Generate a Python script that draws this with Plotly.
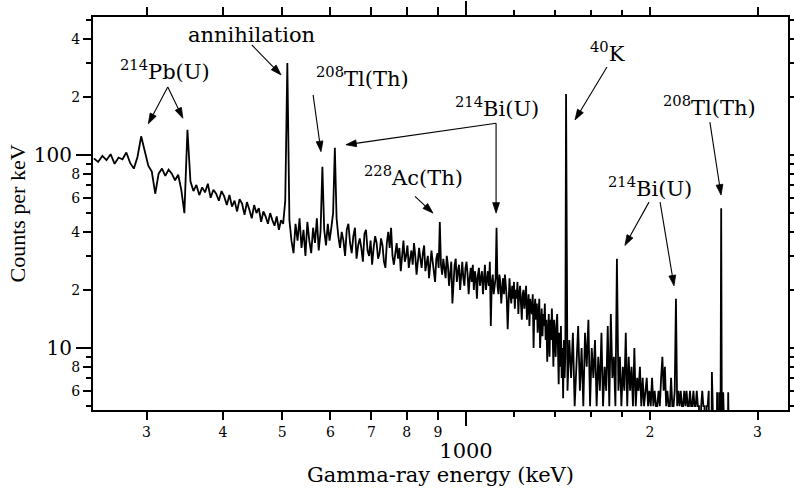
import numpy as np
import plotly.graph_objects as go

# ---------------- data ----------------
# channel energies (keV) of the binning segments of the spectrum
energy_a = list(range(246, 599, 4))
counts_a = [96, 92, 99, 94, 101, 90, 97, 95, 103, 91,
            85, 98, 125, 104, 88, 82, 63, 80, 85, 78,
            84, 80, 74, 79, 66, 50, 135, 73, 65, 70,
            62, 68, 64, 71, 60, 66, 63, 58, 65, 61,
            55, 62, 54, 58, 51, 59, 56, 49, 57, 52,
            47, 55, 50, 53, 45, 51, 48, 44, 50, 46,
            43, 48, 41, 46, 44, 58, 300, 46, 36, 31,
            44, 36, 47, 33, 41, 30, 45, 36, 31, 42,
            35, 47, 32, 40, 87, 41, 34, 44, 36]

energy_b = list(range(602, 1459, 4))
counts_b = [42, 50, 109, 47, 38, 33, 40, 36, 30, 41,
            44, 35, 31, 38, 42, 29, 34, 37, 33, 28,
            39, 41, 32, 30, 36, 27, 33, 38, 35, 29,
            31, 37, 34, 28, 26, 35, 40, 33, 42, 30,
            27, 32, 35, 29, 33, 25, 31, 36, 28, 30,
            34, 26, 29, 32, 27, 35, 30, 24, 28, 33,
            29, 26, 31, 34, 25, 28, 30, 23, 27, 32,
            28, 25, 22, 29, 31, 26, 45, 27, 24, 29,
            26, 23, 30, 27, 21, 25, 28, 17, 24, 27,
            29, 22, 25, 27, 20, 24, 28, 23, 21, 26,
            28, 24, 19, 23, 26, 22, 27, 20, 25, 23,
            18, 24, 26, 21, 23, 25, 19, 22, 27, 20,
            23, 25, 21, 28, 13, 22, 24, 19, 21, 23,
            42, 21, 19, 24, 22, 17, 20, 23, 19, 24,
            21, 18, 12.5, 20, 23, 19, 17, 21, 18, 22,
            16, 20, 18, 22, 15, 19, 21, 17, 14, 19,
            20, 16, 18, 21, 14, 17, 19, 13, 18, 16,
            15, 19, 10, 16, 18, 14, 17, 12, 15, 18,
            10, 14, 16, 11.5, 15, 13, 17, 11, 14, 8.5,
            13, 15, 9, 14, 11, 16, 12, 8, 14, 12,
            9, 13, 15, 10, 6.5, 12, 8, 13, 7, 10,
            5.5, 11, 7, 9, 207]

energy_c = list(range(1466, 2707, 10))
counts_c = [6, 11, 7, 12, 5, 9, 13, 6, 10, 5,
            12, 8, 14, 5, 10, 7, 11, 5, 9, 6,
            12, 5, 8, 6, 13, 5, 15, 7, 9, 5,
            29, 6, 9, 5, 8, 6, 12, 5, 9, 6,
            8, 5, 10, 5, 7, 6, 8, 5, 7, 5,
            6, 7, 5, 6, 5, 7, 5, 6, 5, 5,
            6, 5, 7, 9, 6, 8, 5, 6, 5, 5,
            7, 5, 5, 6, 18, 5, 6, 5, 6, 5,
            5, 6, 5, 6, 5, 5, 6, 5, 5, 6,
            5, 5, 6, 5, 5, 1, 5, 6, 5, 5,
            1, 5, 5, 6, 1, 1, 7.5, 1, 1, 1,
            1, 5.9, 1, 5.9, 1, 53, 1, 5.9, 1, 1,
            1, 1, 5.9, 1, 1]

x_tick_vals = [300, 400, 500, 600, 700, 800, 900, 2000, 3000]
x_tick_text = ["3", "4", "5", "6", "7", "8", "9", "2", "3"]
x_minor_vals = [1200, 1400, 1600, 1800]
x_big_vals = [1000]
x_big_text = ["1000"]

y_tick_vals = [6, 8, 20, 40, 60, 80, 200, 400]
y_tick_text = ["6", "8", "2", "4", "6", "8", "2", "4"]
y_minor_vals = [5, 7, 9, 30, 50, 70, 90, 300, 500]
y_big_vals = [10, 100]
y_big_text = ["10", "100"]

# peak labels: (text, energy keV, counts)
label_text = ["<sup>214</sup>Pb(U)", "annihilation", "<sup>208</sup>Tl(Th)",
              "<sup>214</sup>Bi(U)", "<sup>228</sup>Ac(Th)", "<sup>40</sup>K",
              "<sup>208</sup>Tl(Th)", "<sup>214</sup>Bi(U)"]
label_energy = [322, 445, 676, 1124, 820, 1705, 2507, 2000]
label_counts = [276, 419, 254, 177, 78, 342, 179, 68]

# arrows: head (energy, counts) and tail (energy, counts)
arrow_head_e = [302, 344, 498, 579, 636, 1120, 883, 1508, 2615, 1820, 2190]
arrow_head_c = [145, 155, 260, 104, 113, 50, 50, 152, 62, 34, 21]
arrow_tail_e = [325, 325, 446, 562, 1120, 1120, 825, 1701, 2507, 1993, 2078]
arrow_tail_c = [225, 225, 372, 205, 146, 146, 61, 286, 148, 57, 57]

# ---------------- figure ----------------
assert len(energy_a) == len(counts_a)
assert len(energy_b) == len(counts_b)
assert len(energy_c) == len(counts_c)
energy = energy_a + energy_b + energy_c
counts = counts_a + counts_b + counts_c

FONT = "DejaVu Serif"
x_range = [2.3895, 3.527]
y_range = [0.6788, 2.715]

fig = go.Figure()
fig.add_trace(go.Scatter(x=energy, y=counts, mode="lines",
                         line=dict(color="black", width=1.8),
                         showlegend=False, hoverinfo="skip"))
fig.add_trace(go.Scatter(x=[], y=[], xaxis="x2", yaxis="y2",
                         showlegend=False, hoverinfo="skip"))

# arrows (line + filled arrow head at the pointed-to end)
for he, hc, te, tc in zip(arrow_head_e, arrow_head_c, arrow_tail_e, arrow_tail_c):
    fig.add_trace(go.Scatter(
        x=[te, he], y=[tc, hc], mode="lines+markers",
        line=dict(color="black", width=1.1),
        marker=dict(symbol=["line-ew", "arrow"], size=[0, 11],
                    angleref="previous", color="black", opacity=1,
                    line=dict(width=0.8, color="black")),
        showlegend=False, hoverinfo="skip"))

common = dict(showgrid=False, zeroline=False, ticks="outside",
              tickcolor="black", tickwidth=1.5, color="black",
              mirror="ticks", automargin=False)

fig.update_layout(
    width=794, height=488,
    margin=dict(l=93, r=6, t=17, b=78),
    paper_bgcolor="white", plot_bgcolor="white",
    font=dict(family=FONT, color="black"),
    xaxis=dict(type="log", range=x_range, tickvals=x_tick_vals,
               ticktext=x_tick_text, ticklen=8, showline=True,
               linewidth=2, linecolor="black", tickfont=dict(size=14),
               minor=dict(tickvals=x_minor_vals, ticklen=5, tickwidth=1.5,
                          tickcolor="black", ticks="outside", showgrid=False),
               title=dict(text="Gamma-ray energy (keV)",
                          font=dict(size=21), standoff=29),
               **common),
    xaxis2=dict(type="log", range=x_range, overlaying="x", anchor="y2",
                side="bottom", tickvals=x_big_vals, ticktext=x_big_text,
                ticklen=15, showline=False, tickfont=dict(size=21),
                ticklabelstandoff=7, **common),
    yaxis=dict(type="log", range=y_range, tickvals=y_tick_vals,
               ticktext=y_tick_text, ticklen=8, showline=True,
               linewidth=2, linecolor="black", tickfont=dict(size=14),
               minor=dict(tickvals=y_minor_vals, ticklen=5, tickwidth=1.5,
                          tickcolor="black", ticks="outside", showgrid=False),
               title=dict(text="Counts per keV",
                          font=dict(size=22, family="Liberation Serif"),
                          standoff=40),
               **common),
    yaxis2=dict(type="log", range=y_range, overlaying="y", anchor="x2",
                side="left", tickvals=y_big_vals, ticktext=y_big_text,
                ticklen=16, showline=False, tickfont=dict(size=20), **common),
)

for t, e, c in zip(label_text, label_energy, label_counts):
    fig.add_annotation(x=np.log10(e), y=np.log10(c), xref="x", yref="y",
                       text=t, showarrow=False, xanchor="center",
                       yanchor="middle", font=dict(size=21, family=FONT))

fig.write_html("out.html")
